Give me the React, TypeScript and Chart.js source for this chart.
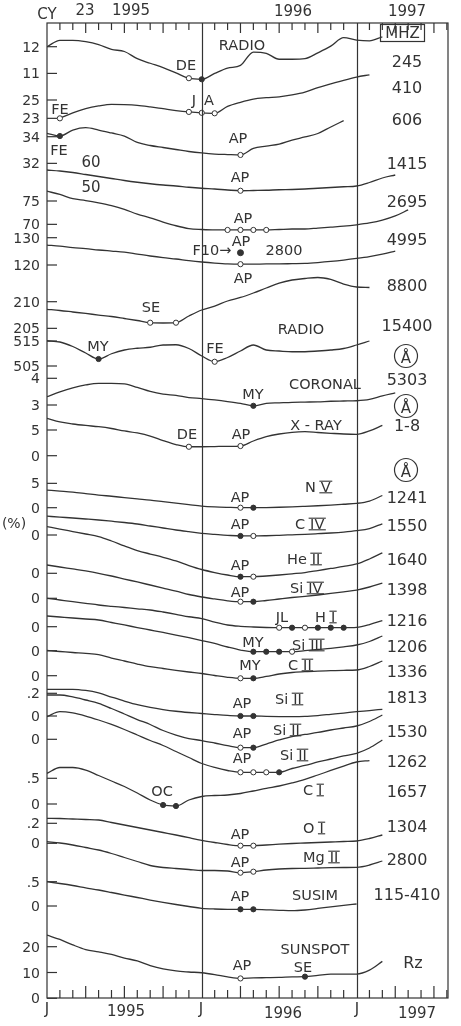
import { useEffect, useRef } from "react";
import { Chart, registerables } from "chart.js";

Chart.register(...registerables);

// Month index: 0 = January 1995, 12 = January 1996, 24 = January 1997
const MONTHS = [0, 1, 2, 3, 4, 5, 6, 7, 8, 9, 10, 11, 12, 13, 14, 15, 16, 17, 18, 19, 20, 21, 22, 23, 24, 25, 26, 27, 28];

// Radio flux (sfu) at several frequencies
const RADIO_245 = [12.0, 12.24, 12.24, 12.19, 12.08, 11.9, 11.82, 11.55, 11.38, 11.22, 11.02, 10.82, 10.78, 11.0, 11.2, 11.3, 11.8, 11.75, 11.53, 11.53, 11.55, 11.77, 12.02, 12.34, 12.25, 12.22, 12.37];
const RADIO_410 = [null, 23.0, 23.6, 24.05, 24.35, 24.53, 24.5, 24.42, 24.25, 24.05, 23.85, 23.7, 23.6, 23.55, 24.3, 24.75, 25.1, 25.25, 25.35, 25.55, 25.85, 26.35, 26.75, 27.15, 27.5, 27.75];
const RADIO_606 = [34.25, 34.05, 34.5, 34.68, 34.5, 34.28, 34.05, 33.57, 33.34, 33.19, 33.04, 32.89, 32.78, 32.7, 32.66, 32.63, 33.12, 33.3, 33.45, 33.75, 33.98, 34.24, 34.73, 35.2];
const RADIO_1415 = [56.8, 56.4, 55.8, 55.0, 54.2, 53.4, 52.6, 51.9, 51.3, 50.8, 50.4, 49.9, 49.5, 49.2, 48.8, 48.5, 48.6, 48.7, 48.9, 49.0, 49.2, 49.5, 49.8, 50.1, 50.4, 51.8, 53.6, 54.8];
const RADIO_2695 = [77.1, 76.4, 75.5, 75.1, 74.6, 74.0, 73.2, 72.2, 71.4, 70.5, 69.7, 69.1, 68.9, 68.8, 68.8, 68.8, 68.8, 68.8, 68.9, 69.0, 69.0, 69.2, 69.4, 69.6, 69.9, 70.3, 70.9, 71.8, 73.1];
const RADIO_4995 = [127.3, 126.9, 126.4, 126.0, 125.5, 125.1, 124.7, 124.0, 123.3, 122.7, 122.2, 121.6, 121.1, 120.7, 120.4, 120.3, 120.3, 120.4, 120.4, 120.5, 120.6, 120.9, 121.3, 121.8, 122.4, 123.1, 124.0, 125.1];
const F10_2800_APRIL = 124.5;
const RADIO_8800 = [208.57, 208.35, 208.07, 207.79, 207.5, 207.22, 206.85, 206.47, 206.06, 206.0, 206.06, 207.32, 208.44, 209.19, 210.13, 210.79, 211.63, 212.57, 213.5, 214.07, 214.35, 214.54, 214.17, 213.32, 212.76, 212.66];
const RADIO_15400 = [515.1, 514.6, 512.8, 510.2, 507.8, 509.9, 511.4, 512.1, 512.5, 513.4, 513.5, 512.0, 509.0, 506.7, 508.4, 511.0, 513.4, 511.4, 511.0, 510.7, 510.7, 511.0, 511.4, 512.0, 513.4, 515.0];

// Coronal green line and soft X-rays
const CORONAL_5303 = [3.31, 3.49, 3.64, 3.75, 3.81, 3.81, 3.79, 3.66, 3.51, 3.41, 3.36, 3.28, 3.24, 3.19, 3.13, 3.06, 2.97, 3.06, 3.08, 3.10, 3.11, 3.12, 3.14, 3.15, 3.16, 3.21, 3.34, 3.45];
const XRAY_1_8 = [7.28, 6.56, 6.17, 5.88, 5.64, 5.29, 4.81, 4.42, 3.83, 2.95, 2.17, 1.74, 1.74, 1.78, 1.82, 1.88, 2.86, 3.69, 4.22, 4.55, 4.67, 4.51, 4.36, 4.22, 4.16, 4.81, 5.9];

// UV line irradiances, percent relative to the minimum
const NV_1241 = [3.62, 3.42, 3.21, 2.91, 2.6, 2.35, 2.08, 1.82, 1.57, 1.26, 0.95, 0.64, 0.34, 0.17, 0.07, 0.0, 0.0, 0.03, 0.09, 0.17, 0.28, 0.4, 0.54, 0.71, 0.89, 1.36, 2.5];
const CIV_1550 = [3.86, 3.67, 3.49, 3.29, 3.08, 2.83, 2.57, 2.26, 1.85, 1.44, 1.03, 0.68, 0.35, 0.14, -0.06, -0.2, -0.2, -0.15, -0.06, 0.04, 0.14, 0.27, 0.41, 0.6, 0.88, 1.33, 2.3];
const HEII_1640 = [9.57, 9.09, 8.58, 8.07, 7.52, 6.63, 5.61, 4.68, 3.96, 3.29, 2.53, 1.6, 0.78, 0.16, -0.35, -0.7, -0.7, -0.55, -0.35, -0.1, 0.16, 0.57, 0.99, 1.4, 1.91, 2.94, 4.2];
const SIIV_1398 = [6.84, 6.43, 6.02, 5.61, 5.14, 4.58, 3.96, 3.35, 2.73, 2.11, 1.49, 0.78, 0.27, -0.14, -0.51, -0.7, -0.7, -0.45, -0.14, 0.16, 0.41, 0.68, 0.99, 1.33, 1.7, 2.32, 3.14];
const HI_1216 = [5.83, 5.48, 5.13, 4.8, 4.46, 4.19, 3.94, 3.68, 3.43, 3.02, 2.55, 2.04, 1.68, 0.96, 0.35, 0.08, -0.06, -0.16, -0.21, -0.21, -0.21, -0.21, -0.21, -0.21, -0.12, 0.45, 1.27];
const SIIII_1206 = [7.13, 6.92, 6.71, 6.51, 6.3, 5.79, 5.28, 4.76, 4.25, 3.74, 3.22, 2.67, 2.09, 1.48, 0.76, 0.14, -0.21, -0.21, -0.21, -0.21, 0.0, 0.25, 0.49, 0.8, 1.17, 1.89, 3.02];
const CII_1336 = [5.17, 4.97, 4.76, 4.58, 4.33, 3.63, 3.02, 2.4, 1.85, 1.48, 1.11, 0.76, 0.45, 0.04, -0.33, -0.53, -0.53, -0.16, 0.35, 0.66, 0.82, 0.96, 1.03, 1.11, 1.17, 1.89, 3.02];
const SIII_1813 = [0.235, 0.235, 0.235, 0.225, 0.203, 0.167, 0.132, 0.1, 0.076, 0.057, 0.042, 0.031, 0.022, 0.013, 0.005, 0, 0, -0.003, -0.005, -0.006, -0.004, 0.004, 0.015, 0.026, 0.038, 0.048, 0.059];
const SIII_1530 = [9.1, 9.1, 8.69, 8.07, 7.39, 6.32, 5.19, 4.06, 3.04, 1.81, 0.88, 0.16, -0.25, -0.76, -1.31, -1.72, -1.72, -0.97, -0.14, 0.57, 0.99, 1.4, 1.91, 2.32, 2.73, 3.66, 4.99];
const SIII_1262 = [11.42, 12.44, 12.18, 11.56, 10.74, 9.82, 8.79, 7.66, 6.53, 5.5, 4.27, 3.04, 1.81, 0.99, 0.37, 0, 0, 0, 0, 0.78, 1.4, 2.12, 2.73, 3.35, 3.9, 4.99, 6.63];
const CI_1657 = [0.597, 0.71, 0.71, 0.661, 0.554, 0.447, 0.34, 0.214, 0.078, -0.019, -0.039, 0.078, 0.146, 0.165, 0.175, 0.204, 0.253, 0.305, 0.35, 0.409, 0.477, 0.564, 0.652, 0.739, 0.817, 0.845];
const OI_1304 = [0.25, 0.248, 0.243, 0.238, 0.233, 0.208, 0.183, 0.158, 0.133, 0.108, 0.083, 0.056, 0.03, 0.008, -0.012, -0.024, -0.024, -0.017, -0.009, -0.002, 0.003, 0.008, 0.013, 0.018, 0.023, 0.048, 0.083];
const MGII_2800 = [0.31, 0.297, 0.277, 0.252, 0.227, 0.192, 0.152, 0.112, 0.072, 0.052, 0.042, 0.032, 0.022, 0.022, 0.017, 0, 0.01, 0.027, 0.037, 0.042, 0.044, 0.047, 0.05, 0.052, 0.054, 0.077, 0.117];
const SUSIM_115_410 = [0.5, 0.463, 0.422, 0.374, 0.329, 0.278, 0.226, 0.175, 0.123, 0.076, 0.031, -0.01, -0.047, -0.062, -0.068, -0.068, -0.068, -0.078, -0.088, -0.097, -0.082, -0.051, -0.016, 0.014, 0.041];

// Sunspot number
const SUNSPOT_RZ = [24.5, 22.8, 20.7, 18.9, 18.0, 17.0, 15.6, 14.5, 12.7, 11.4, 10.6, 10.2, 9.9, 9.2, 8.3, 7.7, 7.9, 8.0, 8.1, 8.3, 8.4, 8.9, 9.4, 9.4, 9.4, 10.9, 14.3];

const INK = "#333";
const FONT = '"DejaVu Sans", sans-serif';

// Plot frame (pixels) and month range
const TOP = 23;
const BOTTOM = 998;
const LEFT = 47;
const RIGHT = 448;
const X_MAX = 31.09;

// Each strip has its own value axis: value `ref` sits at row `at`, `k` pixels per unit
type Strip = {
  data: (number | null)[];
  ref: number;
  at: number;
  k: number;
  ticks?: number[];
  inner?: number[];
  open?: number[];
  filled?: number[];
};

const STRIPS: Strip[] = [
  { data: RADIO_245, ref: 12, at: 46.7, k: 26.7, ticks: [12, 11], open: [11], filled: [12] },
  { data: RADIO_410, ref: 25, at: 100, k: 9.17, ticks: [25, 23], open: [1, 11, 12, 13] },
  { data: RADIO_606, ref: 34, at: 136.7, k: 13.33, ticks: [34, 32], open: [15], filled: [1] },
  { data: RADIO_1415, ref: 60, at: 162, k: 2.5, inner: [60, 50], open: [15] },
  { data: RADIO_2695, ref: 75, at: 201, k: 4.67, ticks: [75, 70], open: [14, 15, 16, 17] },
  { data: RADIO_4995, ref: 130, at: 237.7, k: 2.73, ticks: [130, 120], open: [15] },
  { data: RADIO_8800, ref: 210, at: 301.7, k: 5.33, ticks: [210, 205], open: [8, 10] },
  { data: RADIO_15400, ref: 515, at: 341, k: 2.5, ticks: [515, 505], open: [13], filled: [4] },
  { data: CORONAL_5303, ref: 4, at: 378.3, k: 26.7, ticks: [4, 3], filled: [16] },
  { data: XRAY_1_8, ref: 5, at: 430, k: 5.14, ticks: [5, 0], open: [11, 15] },
  { data: NV_1241, ref: 0, at: 507.7, k: 4.87, ticks: [5, 0], open: [15], filled: [16] },
  { data: CIV_1550, ref: 0, at: 535, k: 4.87, ticks: [0], open: [16], filled: [15] },
  { data: HEII_1640, ref: 0, at: 573.3, k: 4.87, ticks: [0], open: [16], filled: [15] },
  { data: SIIV_1398, ref: 0, at: 598.3, k: 4.87, ticks: [0], open: [15], filled: [16] },
  { data: HI_1216, ref: 0, at: 626.7, k: 4.87, ticks: [0], open: [18, 20], filled: [19, 21, 22, 23] },
  { data: SIIII_1206, ref: 0, at: 650.7, k: 4.87, ticks: [0], open: [19], filled: [16, 17, 18] },
  { data: CII_1336, ref: 0, at: 675.7, k: 4.87, ticks: [0], open: [15], filled: [16] },
  { data: SIII_1813, ref: 0, at: 716, k: 113.5, ticks: [0.2, 0], filled: [15, 16] },
  { data: SIII_1530, ref: 0, at: 739.3, k: 4.87, ticks: [0], open: [15], filled: [16] },
  { data: SIII_1262, ref: 0, at: 772.3, k: 4.87, open: [15, 16, 17], filled: [18] },
  { data: CI_1657, ref: 0, at: 804, k: 51.4, ticks: [0.5, 0], filled: [9, 10] },
  { data: OI_1304, ref: 0, at: 843.3, k: 100, ticks: [0.2, 0], open: [15, 16] },
  { data: MGII_2800, ref: 0, at: 872.7, k: 100, open: [15, 16] },
  { data: SUSIM_115_410, ref: 0, at: 906, k: 48.6, ticks: [0.5, 0], filled: [15, 16] },
  { data: SUNSPOT_RZ, ref: 0, at: 998.3, k: 2.58, ticks: [20, 10, 0], open: [15], filled: [20] },
];

// Text inside the frame: [text, centre x, centre y]
const INNER_LABELS: [string, number, number][] = [
  ["RADIO", 242, 45], ["DE", 186, 65], ["J", 194, 100], ["A", 209, 100], ["FE", 60, 109],
  ["AP", 238, 138], ["FE", 59, 150], ["AP", 240, 177], ["AP", 243, 218], ["AP", 241, 241],
  ["F10\u2192", 212, 250], ["2800", 284, 250], ["AP", 243, 278], ["SE", 151, 307],
  ["RADIO", 301, 329], ["MY", 98, 346], ["FE", 215, 348], ["CORONAL", 325, 384],
  ["MY", 253, 394], ["X - RAY", 316, 425], ["DE", 187, 434], ["AP", 241, 434],
  ["AP", 240, 497], ["AP", 240, 524], ["AP", 240, 565], ["AP", 240, 592], ["JL", 282, 617],
  ["MY", 253, 642], ["MY", 250, 665], ["AP", 242, 703], ["AP", 242, 733], ["AP", 242, 758],
  ["OC", 162, 791], ["AP", 240, 834], ["AP", 240, 862], ["AP", 240, 896], ["SUSIM", 315, 895],
  ["SUNSPOT", 315, 949], ["AP", 242, 965], ["SE", 303, 967],
];

// Ion names with Roman-numeral stage: [element, stage, left x, centre y]
const ION_LABELS: [string, string, number, number][] = [
  ["N", "V", 305, 487], ["C", "IV", 295, 524], ["He", "II", 287, 559], ["Si", "IV", 290, 588],
  ["H", "I", 315, 617], ["Si", "III", 292, 645], ["C", "II", 288, 665], ["Si", "II", 275, 699],
  ["Si", "II", 273, 730], ["Si", "II", 280, 755], ["C", "I", 303, 790], ["O", "I", 303, 828],
  ["Mg", "II", 303, 857],
];

// Wavelength / frequency labels at the right: [text, centre y]
const RIGHT_LABELS: [string, number][] = [
  ["245", 61], ["410", 87], ["606", 119], ["1415", 163], ["2695", 201], ["4995", 239],
  ["8800", 285], ["15400", 325], ["5303", 379], ["1-8", 425], ["1241", 497], ["1550", 525],
  ["1640", 559], ["1398", 589], ["1216", 620], ["1206", 646], ["1336", 671], ["1813", 697],
  ["1530", 731], ["1262", 761], ["1657", 791], ["1304", 826], ["2800", 859], ["115-410", 894],
];
const ANGSTROM_ROWS = [356, 406, 470];

const YEAR_STARTS = [12, 24];
const TOP_LABELS: [string, number, number][] = [["CY", 47, 14], ["23", 85, 10], ["1995", 131, 10], ["1996", 293, 11], ["1997", 407, 11]];
const BOTTOM_LABELS: [string, number, number][] = [["J", 47, 1009], ["1995", 126, 1011], ["J", 201, 1009], ["1996", 283, 1013], ["J", 357, 1009], ["1997", 417, 1013]];

function fmtTick(v: number) {
  return v > 0 && v < 1 ? String(v).replace(/^0/, "") : String(v);
}

// Draw text centred vertically on its capital height
function capText(ctx: CanvasRenderingContext2D, text: string, x: number, y: number, size: number, align: CanvasTextAlign = "center") {
  ctx.font = `${size}px ${FONT}`;
  ctx.textAlign = align;
  ctx.textBaseline = "alphabetic";
  ctx.fillText(text, x, y + size * 0.36);
}

const decorations = {
  id: "decorations",
  afterDatasetsDraw(chart: any) {
    const { ctx, chartArea: a, scales } = chart;
    const xs = scales.x;
    const line = (x1: number, y1: number, x2: number, y2: number) => {
      ctx.beginPath();
      ctx.moveTo(x1, y1);
      ctx.lineTo(x2, y2);
      ctx.stroke();
    };
    ctx.save();
    ctx.strokeStyle = INK;
    ctx.fillStyle = INK;
    ctx.lineWidth = 1.2;

    // frame and year dividers
    ctx.strokeRect(a.left, a.top, a.right - a.left, a.bottom - a.top);
    for (const m of YEAR_STARTS) {
      const px = Math.round(xs.getPixelForValue(m)) + 0.5;
      line(px, a.top, px, a.bottom);
    }
    // monthly ticks along the top and bottom edges
    for (let m = 1; m <= 31; m++) {
      if (YEAR_STARTS.includes(m)) continue;
      const px = xs.getPixelForValue(m);
      if (px > a.right - 1) continue;
      const long = m % 3 === 0;
      line(px, a.top, px, a.top + (long ? 10 : 7));
      line(px, a.bottom, px, a.bottom - (long ? 12 : 8));
    }

    // left value ticks for each strip
    STRIPS.forEach((s, i) => {
      const ys = scales["y" + i];
      (s.ticks || []).forEach((v) => {
        const py = ys.getPixelForValue(v);
        line(a.left, py, a.left + 10, py);
        capText(ctx, fmtTick(v), 40, py, 14, "right");
      });
      (s.inner || []).forEach((v) => {
        capText(ctx, fmtTick(v), 91, ys.getPixelForValue(v), 15);
      });
    });
    capText(ctx, "(%)", 14, 523, 14);

    // axis labels
    TOP_LABELS.forEach(([t, x, y]) => capText(ctx, t, x, y, 15));
    BOTTOM_LABELS.forEach(([t, x, y]) => capText(ctx, t, x, y, 15));

    // labels inside the frame
    INNER_LABELS.forEach(([t, x, y]) => capText(ctx, t, x, y, 14.5));
    ION_LABELS.forEach(([el, stage, x, y]) => {
      capText(ctx, el, x, y, 14.5, "left");
      ctx.font = `14.5px ${FONT}`;
      const sx = x + ctx.measureText(el).width + 5;
      capText(ctx, stage, sx, y, 14.5, "left");
      const w = ctx.measureText(stage).width;
      ctx.lineWidth = 1.1;
      line(sx - 1.5, y - 5.8, sx + w + 1.5, y - 5.8);
      line(sx - 1.5, y + 5.8, sx + w + 1.5, y + 5.8);
      ctx.lineWidth = 1.2;
    });

    // right-hand labels
    RIGHT_LABELS.forEach(([t, y]) => capText(ctx, t, 407, y, 16));
    capText(ctx, "Rz", 413, 962, 16);
    ctx.strokeRect(380.5, 24.5, 44, 17);
    capText(ctx, "MHZ", 402.5, 33, 15);
    ANGSTROM_ROWS.forEach((y) => {
      ctx.beginPath();
      ctx.arc(406, y, 11.5, 0, Math.PI * 2);
      ctx.stroke();
      capText(ctx, "\u00c5", 406, y + 2, 15);
    });
    ctx.restore();
  },
};

export default function App() {
  const ref = useRef<HTMLCanvasElement>(null);

  useEffect(() => {
    const canvas = ref.current;
    if (!canvas) return;
    const scales: any = { x: { type: "linear", min: 0, max: X_MAX, display: false } };
    const datasets: any[] = [];

    STRIPS.forEach((s, i) => {
      const id = "y" + i;
      scales[id] = {
        type: "linear",
        display: false,
        min: s.ref - (BOTTOM - s.at) / s.k,
        max: s.ref + (s.at - TOP) / s.k,
      };
      datasets.push({
        data: MONTHS.map((m, j) => ({ x: m, y: s.data[j] })).filter((d) => d.y !== null && d.y !== undefined),
        yAxisID: id,
        borderColor: INK,
        borderWidth: 1.3,
        pointRadius: 0,
        cubicInterpolationMode: "monotone",
        fill: false,
        order: 1,
      });
      const marks: [number[] | undefined, string][] = [[s.open, "#fff"], [s.filled, INK]];
      marks.forEach(([list, bg]) => {
        if (!list || !list.length) return;
        datasets.push({
          data: list.map((m) => ({ x: m, y: s.data[m] })),
          yAxisID: id,
          showLine: false,
          pointRadius: 2.6,
          pointBackgroundColor: bg,
          pointBorderColor: INK,
          pointBorderWidth: 1,
          order: 0,
        });
      });
    });

    // F10.7 (2800 MHz) reference value for April 1996, on the 4995 MHz strip
    datasets.push({
      data: [{ x: 15, y: F10_2800_APRIL }],
      yAxisID: "y5",
      showLine: false,
      pointRadius: 3,
      pointBackgroundColor: INK,
      pointBorderColor: INK,
      order: 0,
    });

    const chart = new Chart(canvas, {
      type: "line",
      data: { datasets },
      options: {
        responsive: false,
        animation: false,
        devicePixelRatio: 1,
        layout: { padding: { left: LEFT, right: 461 - RIGHT, top: TOP, bottom: 1026 - BOTTOM } },
        scales,
        plugins: { legend: { display: false }, tooltip: { enabled: false } },
        events: [],
      },
      plugins: [decorations],
    } as any);
    return () => chart.destroy();
  }, []);

  return (
    <div style={{ position: "absolute", left: 0, top: 0, width: 461, height: 1026, background: "#fff" }}>
      <canvas ref={ref} width={461} height={1026} style={{ display: "block" }} />
    </div>
  );
}
